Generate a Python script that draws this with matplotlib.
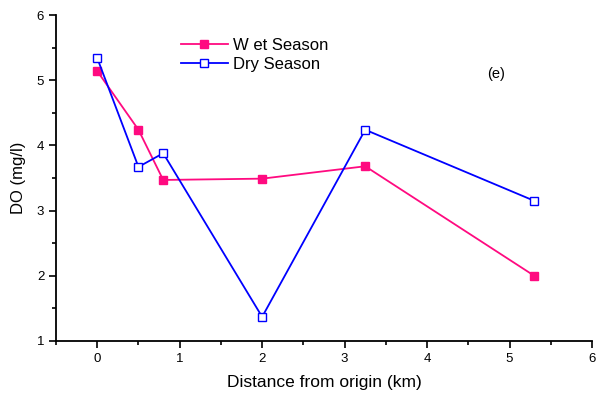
import matplotlib
matplotlib.use("Agg")
import matplotlib.pyplot as plt
from matplotlib.ticker import MultipleLocator

plt.rcParams['font.family'] = ['Liberation Sans', 'DejaVu Sans']

distance = [0, 0.5, 0.8, 2, 3.25, 5.3]
wet_season = [5.14, 4.24, 3.47, 3.49, 3.68, 2.0]
dry_season = [5.34, 3.67, 3.88, 1.37, 4.24, 3.15]

fig = plt.figure(figsize=(5.97, 3.96), dpi=100)
ax = fig.add_axes([0.0938, 0.1389, 0.8978, 0.8232])

pink = '#FF0A80'
blue = '#0000FF'
ax.plot(distance, wet_season, color=pink, lw=1.3, marker='s', ms=6,
        mfc=pink, mec=pink, label='W et Season')
ax.plot(distance, dry_season, color=blue, lw=1.3, marker='s', ms=6,
        mfc='white', mec=blue, mew=1.0, label='Dry Season')

ax.set_xlim(-0.5, 6)
ax.set_ylim(1, 6)
ax.xaxis.set_major_locator(MultipleLocator(1))
ax.xaxis.set_minor_locator(MultipleLocator(0.5))
ax.yaxis.set_major_locator(MultipleLocator(1))
ax.yaxis.set_minor_locator(MultipleLocator(0.5))
ax.spines['top'].set_visible(False)
ax.spines['right'].set_visible(False)
for s in ('left', 'bottom'):
    ax.spines[s].set_linewidth(1.3)
ax.tick_params(which='major', direction='out', length=5, width=1.2, labelsize=9.5)
ax.tick_params(which='minor', direction='out', length=3, width=1.2)

ax.set_xlabel('Distance from origin (km)', fontsize=12.5, labelpad=7)
ax.set_ylabel('DO (mg/l)', fontsize=12, labelpad=8)

leg = ax.legend(loc='upper left', bbox_to_anchor=(0.205, 0.975), frameon=False,
                fontsize=12, handlelength=2.8, handletextpad=0.3, labelspacing=0.25)

ax.text(4.73, 5.03, '(e)', fontsize=10.5)

fig.savefig('out.png', dpi=100)
